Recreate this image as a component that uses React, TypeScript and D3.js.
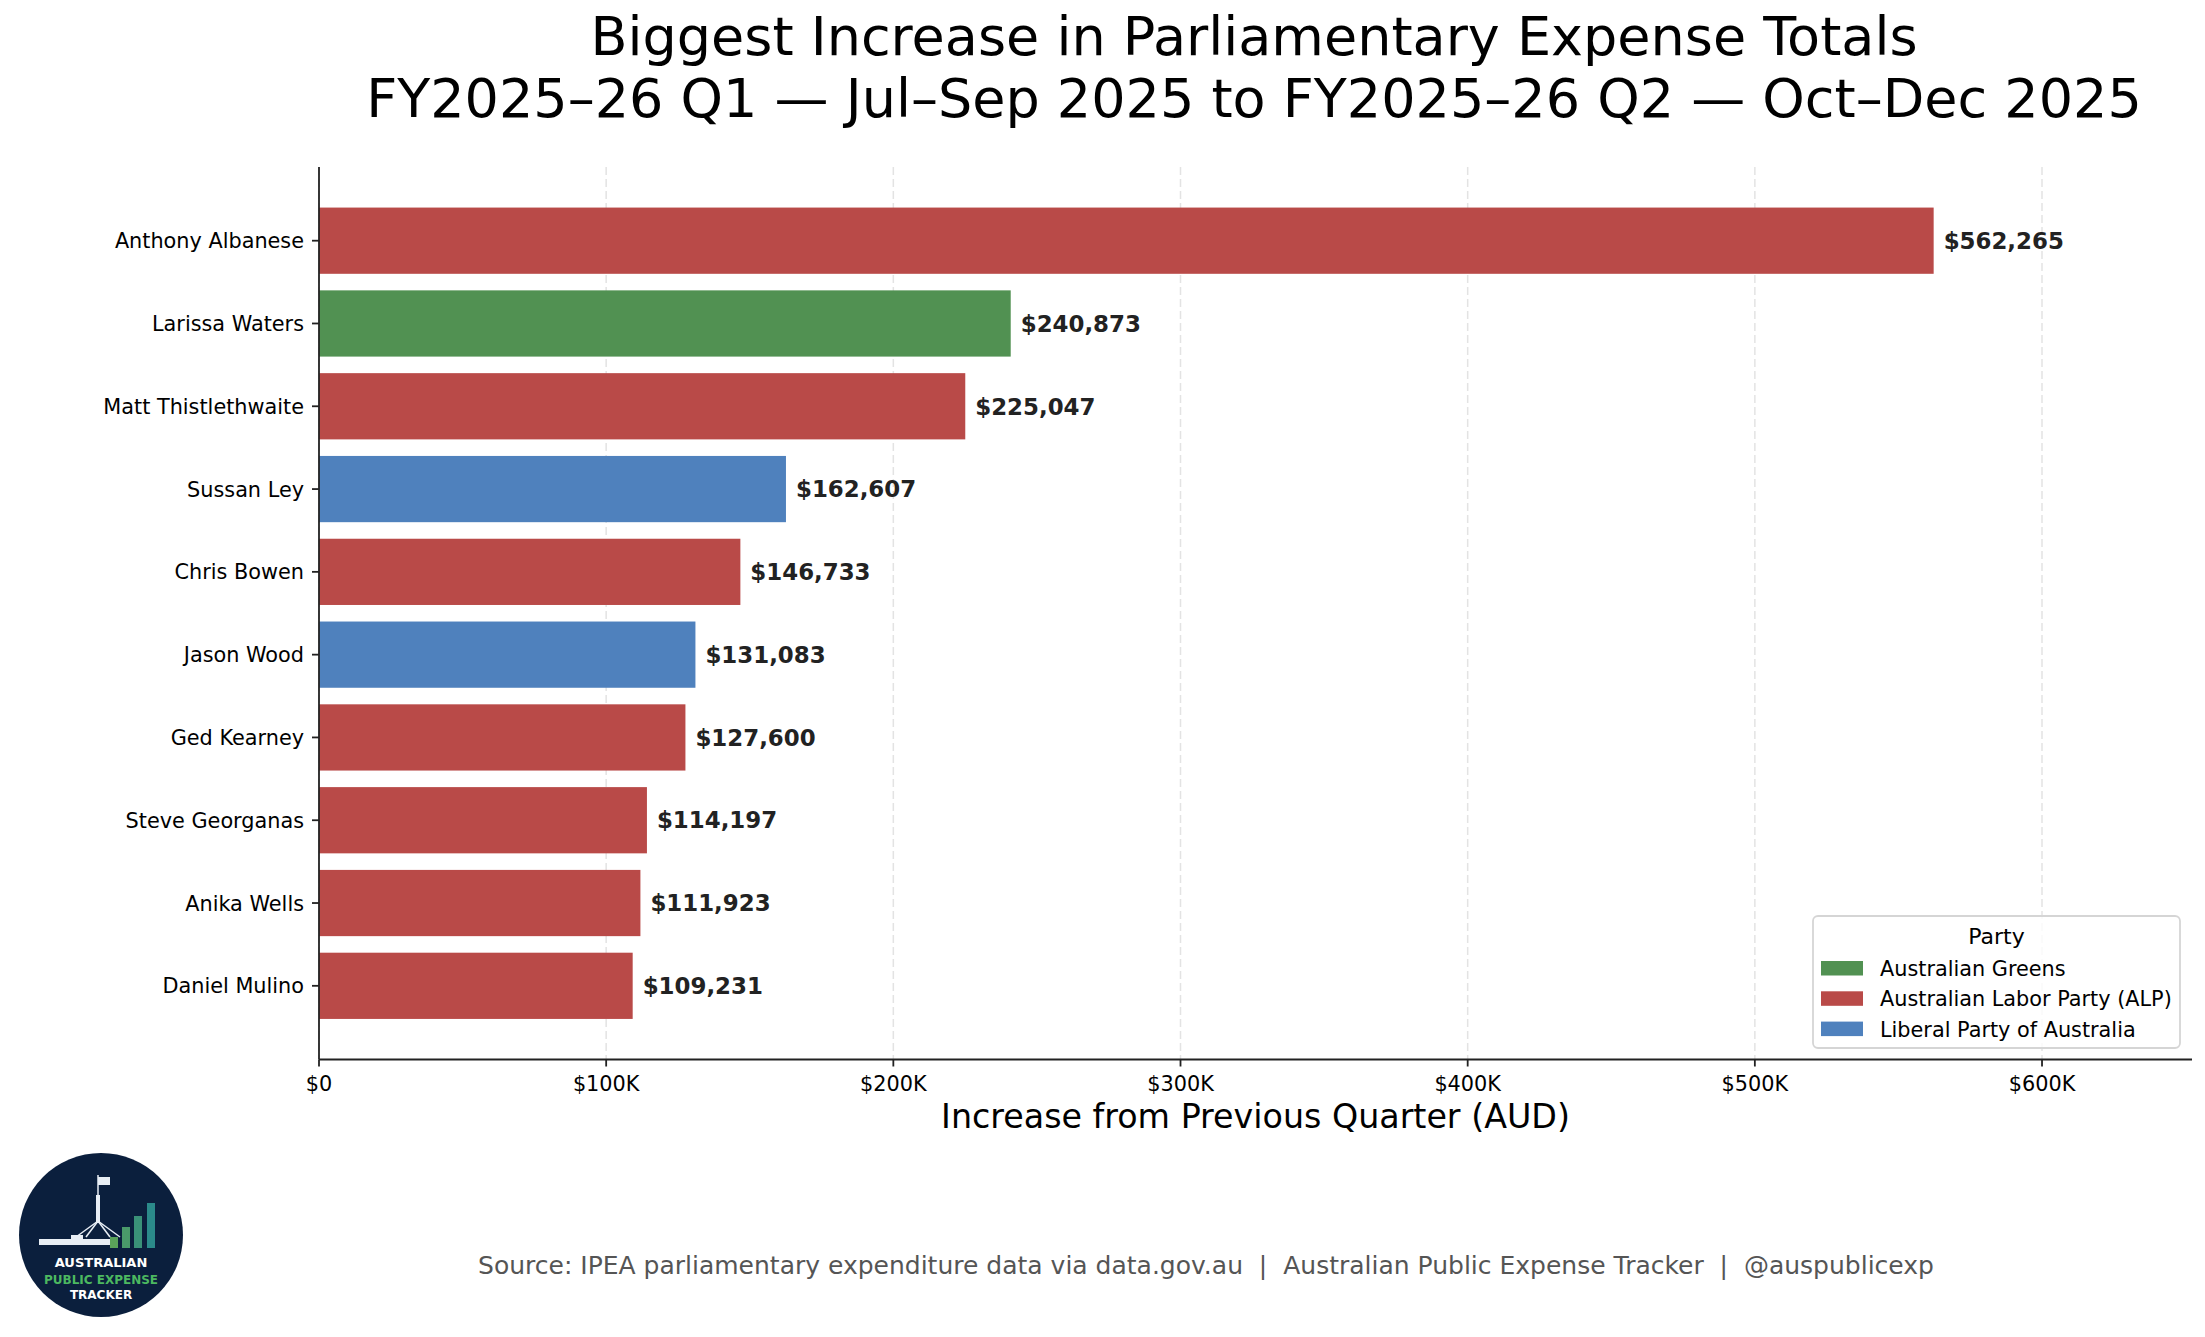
import React from 'react';
import * as d3 from 'd3';

const names = [
  'Anthony Albanese',
  'Larissa Waters',
  'Matt Thistlethwaite',
  'Sussan Ley',
  'Chris Bowen',
  'Jason Wood',
  'Ged Kearney',
  'Steve Georganas',
  'Anika Wells',
  'Daniel Mulino',
];
const increases = [562265, 240873, 225047, 162607, 146733, 131083, 127600, 114197, 111923, 109231];
const parties = [
  'Australian Labor Party (ALP)',
  'Australian Greens',
  'Australian Labor Party (ALP)',
  'Liberal Party of Australia',
  'Australian Labor Party (ALP)',
  'Liberal Party of Australia',
  'Australian Labor Party (ALP)',
  'Australian Labor Party (ALP)',
  'Australian Labor Party (ALP)',
  'Australian Labor Party (ALP)',
];
const legendParties = ['Australian Greens', 'Australian Labor Party (ALP)', 'Liberal Party of Australia'];
const partyColors = ['#519152', '#b94a48', '#4f81bd'];
const xTicks = [0, 100000, 200000, 300000, 400000, 500000, 600000];

const W = 2205;
const H = 1337;
const FONT = '"DejaVu Sans", Verdana, sans-serif';
const plot = { left: 319, right: 2192, top: 167, bottom: 1059.5 };

const color = d3.scaleOrdinal<string, string>().domain(legendParties).range(partyColors);
const fmtMoney = (v: number) => '$' + d3.format(',')(v);
const fmtTick = (v: number) => (v === 0 ? '$0' : `$${v / 1000}K`);

// small logo in the corner (decoration, not data)
const Logo = () => (
  <g transform="translate(101,1235)">
    <circle r={82} fill="#0b1f3d" />
    {/* flag + pole */}
    <rect x={-3} y={-58} width={12} height={8} fill="#e8eef5" />
    <line x1={-3} y1={-60} x2={-3} y2={-12} stroke="#e8eef5" strokeWidth={1.5} />
    <rect x={-5} y={-40} width={4} height={28} fill="#e8eef5" />
    {[-25, -15, 9, 19].map((dx, i) => (
      <line key={i} x1={-3} y1={-14} x2={dx} y2={2} stroke="#e8eef5" strokeWidth={1.5} />
    ))}
    {/* building */}
    <rect x={-62} y={4} width={78} height={6} fill="#e8eef5" />
    <rect x={-30} y={0} width={12} height={4} fill="#e8eef5" />
    {/* rising bars */}
    <rect x={9} y={2} width={8} height={11} fill="#5aa35a" />
    <rect x={21} y={-8} width={8} height={21} fill="#4a9a6a" />
    <rect x={33} y={-19} width={8} height={32} fill="#3a9178" />
    <rect x={46} y={-32} width={8} height={45} fill="#2b8a8a" />
    <text y={32} textAnchor="middle" fontFamily={FONT} fontWeight="bold" fontSize={13} fill="#ffffff">
      AUSTRALIAN
    </text>
    <text y={49} textAnchor="middle" fontFamily={FONT} fontWeight="bold" fontSize={12} fill="#4cb860">
      PUBLIC EXPENSE
    </text>
    <text y={64} textAnchor="middle" fontFamily={FONT} fontWeight="bold" fontSize={12} fill="#ffffff">
      TRACKER
    </text>
  </g>
);

export default function App() {
  const x = d3
    .scaleLinear()
    .domain([0, (d3.max(increases) ?? 1) * 1.16])
    .range([plot.left, plot.right]);

  const y = d3
    .scaleBand<string>()
    .domain(names)
    .range([plot.top, plot.bottom])
    .paddingInner(0.2)
    .paddingOuter(0.49);

  const cx = (plot.left + plot.right) / 2;

  return (
    <div style={{ position: 'absolute', left: 0, top: 0 }}>
      <svg width={W} height={H} viewBox={`0 0 ${W} ${H}`} style={{ display: 'block', background: '#fff' }}>
        {/* title */}
        <text x={1254} y={55} textAnchor="middle" fontFamily={FONT} fontSize={54} fill="#000">
          Biggest Increase in Parliamentary Expense Totals
        </text>
        <text x={1254} y={117} textAnchor="middle" fontFamily={FONT} fontSize={54} fill="#000">
          FY2025–26 Q1 — Jul–Sep 2025 to FY2025–26 Q2 — Oct–Dec 2025
        </text>

        {/* grid */}
        {xTicks.map(t => (
          <line
            key={'g' + t}
            x1={x(t)}
            x2={x(t)}
            y1={plot.top}
            y2={plot.bottom}
            stroke="#cccccc"
            strokeOpacity={0.55}
            strokeWidth={1.5}
            strokeDasharray="8,4"
          />
        ))}

        {/* bars */}
        {names.map((n, i) => (
          <rect
            key={n}
            x={x(0)}
            y={y(n)}
            width={x(increases[i]) - x(0)}
            height={y.bandwidth()}
            fill={color(parties[i])}
          />
        ))}

        {/* value labels */}
        {names.map((n, i) => (
          <text
            key={'v' + n}
            x={x(increases[i]) + 10}
            y={(y(n) ?? 0) + y.bandwidth() / 2}
            dy="0.36em"
            fontFamily={FONT}
            fontWeight="bold"
            fontSize={22.9}
            fill="#222"
          >
            {fmtMoney(increases[i])}
          </text>
        ))}

        {/* y axis */}
        <line x1={plot.left} x2={plot.left} y1={plot.top} y2={plot.bottom} stroke="#222" strokeWidth={1.8} />
        {names.map(n => {
          const cy = (y(n) ?? 0) + y.bandwidth() / 2;
          return (
            <g key={'yt' + n}>
              <line x1={plot.left - 7} x2={plot.left} y1={cy} y2={cy} stroke="#222" strokeWidth={1.8} />
              <text
                x={plot.left - 15}
                y={cy}
                dy="0.36em"
                textAnchor="end"
                fontFamily={FONT}
                fontSize={20.8}
                fill="#000"
              >
                {n}
              </text>
            </g>
          );
        })}

        {/* x axis */}
        <line x1={plot.left} x2={plot.right} y1={plot.bottom} y2={plot.bottom} stroke="#222" strokeWidth={1.8} />
        {xTicks.map(t => (
          <g key={'xt' + t}>
            <line x1={x(t)} x2={x(t)} y1={plot.bottom} y2={plot.bottom + 7} stroke="#222" strokeWidth={1.8} />
            <text
              x={x(t)}
              y={plot.bottom + 31}
              textAnchor="middle"
              fontFamily={FONT}
              fontSize={20.8}
              fill="#000"
            >
              {fmtTick(t)}
            </text>
          </g>
        ))}
        <text x={cx} y={1128} textAnchor="middle" fontFamily={FONT} fontSize={33.3} fill="#000">
          Increase from Previous Quarter (AUD)
        </text>

        {/* legend */}
        <g>
          <rect
            x={1813}
            y={916}
            width={367}
            height={132}
            rx={5}
            fill="#fff"
            fillOpacity={0.8}
            stroke="#d5d5d5"
            strokeWidth={1.8}
          />
          <text x={1996.5} y={944} textAnchor="middle" fontFamily={FONT} fontSize={22} fill="#000">
            Party
          </text>
          {legendParties.map((p, i) => (
            <g key={p} transform={`translate(0,${i * 30.3})`}>
              <rect x={1821} y={961} width={42} height={14.5} fill={color(p)} />
              <text x={1880} y={976} fontFamily={FONT} fontSize={20.8} fill="#000">
                {p}
              </text>
            </g>
          ))}
        </g>

        {/* footer */}
        <text
          x={1206}
          y={1274}
          textAnchor="middle"
          fontFamily={FONT}
          fontSize={25}
          fill="#555"
          style={{ whiteSpace: 'pre' }}
        >
          {'Source: IPEA parliamentary expenditure data via data.gov.au  |  Australian Public Expense Tracker  |  @auspublicexp'}
        </text>
        <Logo />
      </svg>
    </div>
  );
}
